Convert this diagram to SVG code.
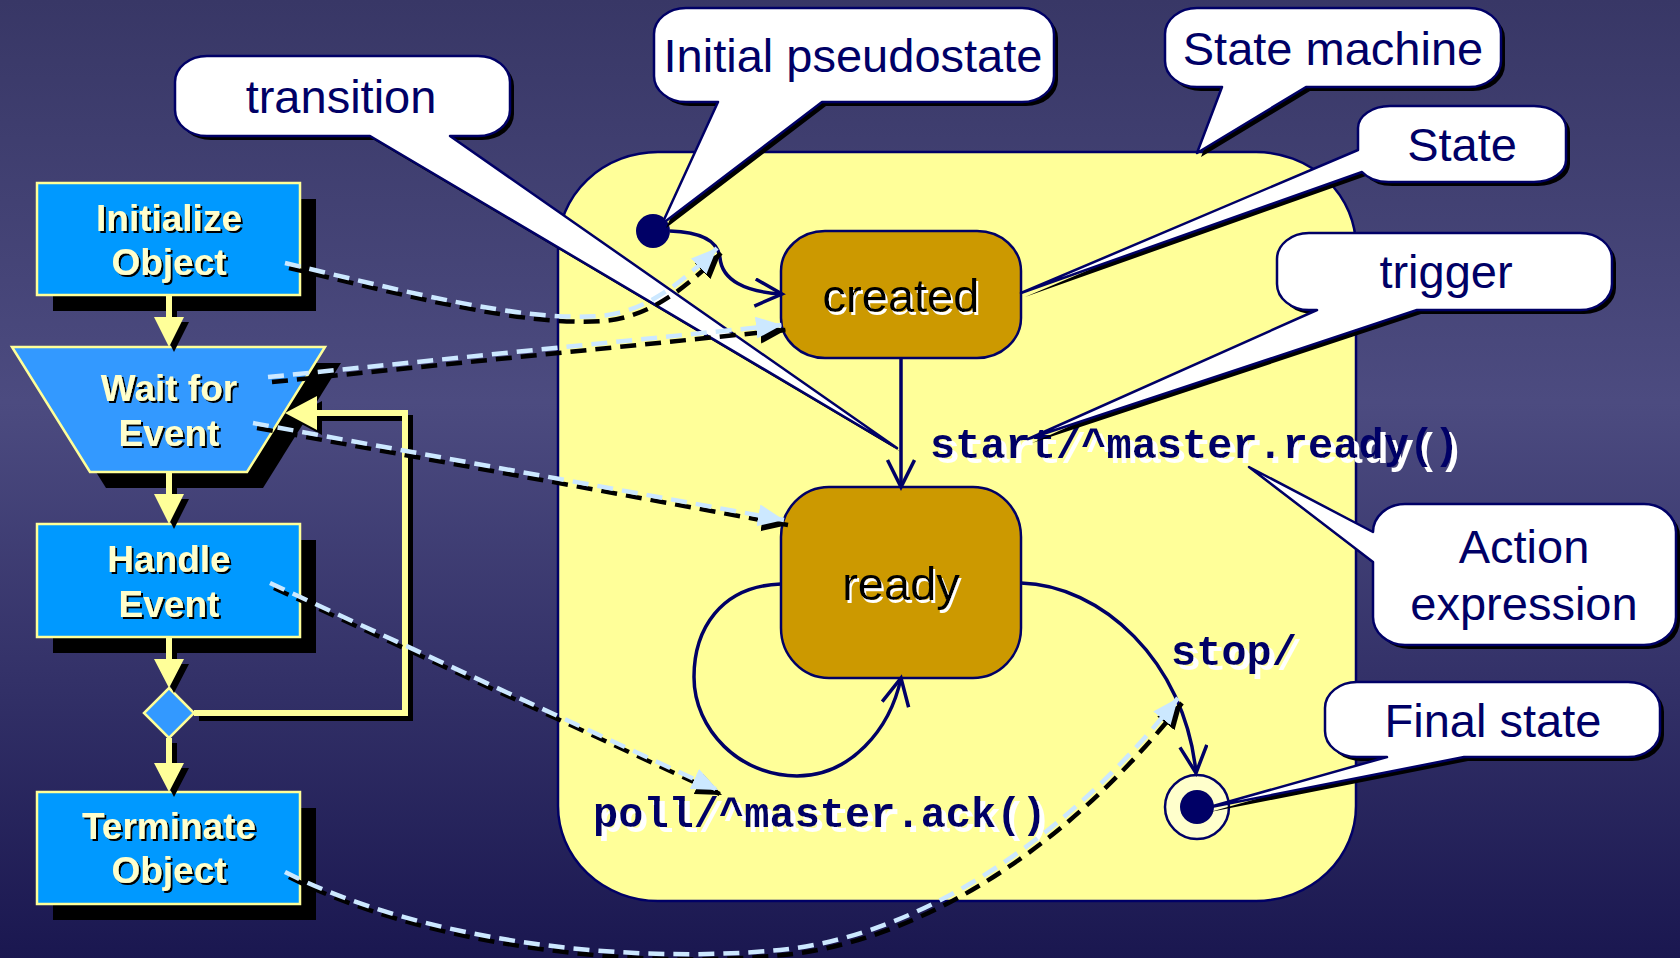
<svg xmlns="http://www.w3.org/2000/svg" width="1680" height="958" viewBox="0 0 1680 958">
<defs>
  <linearGradient id="bg" x1="0" y1="0" x2="0" y2="1">
    <stop offset="0" stop-color="#383766"/>
    <stop offset="0.42" stop-color="#4C4B80"/>
    <stop offset="1" stop-color="#1A1750"/>
  </linearGradient>
  <!-- offset text shadows -->
  <filter id="shadowDark" x="-10%" y="-30%" width="125%" height="160%">
    <feOffset in="SourceAlpha" dx="2" dy="2" result="off"/>
    <feFlood flood-color="#000"/>
    <feComposite in2="off" operator="in" result="shadow"/>
    <feMerge><feMergeNode in="shadow"/><feMergeNode in="SourceGraphic"/></feMerge>
  </filter>
  <filter id="shadowLight" x="-10%" y="-30%" width="125%" height="160%">
    <feOffset in="SourceAlpha" dx="2" dy="3" result="off"/>
    <feFlood flood-color="#fff"/>
    <feComposite in2="off" operator="in" result="shadow"/>
    <feMerge><feMergeNode in="shadow"/><feMergeNode in="SourceGraphic"/></feMerge>
  </filter>
  <filter id="shadowLabel" x="-5%" y="-30%" width="115%" height="170%">
    <feOffset in="SourceAlpha" dx="5" dy="5" result="off"/>
    <feFlood flood-color="#fff"/>
    <feComposite in2="off" operator="in" result="shadow"/>
    <feMerge><feMergeNode in="shadow"/><feMergeNode in="SourceGraphic"/></feMerge>
  </filter>
  <marker id="tipBlue" markerUnits="userSpaceOnUse" markerWidth="30" markerHeight="26" refX="26" refY="11" orient="auto">
    <path d="M0,0 L26,11 L0,22 Z" fill="#CCE8FF"/>
  </marker>
  <marker id="tipBlack" markerUnits="userSpaceOnUse" markerWidth="30" markerHeight="26" refX="26" refY="11" orient="auto">
    <path d="M0,0 L26,11 L0,22 Z" fill="#000"/>
  </marker>
  <marker id="openV" markerUnits="userSpaceOnUse" markerWidth="34" markerHeight="32" refX="30" refY="15" orient="auto">
    <path d="M3,1.5 L30,15 L3,28.5" fill="none" stroke="#000066" stroke-width="3.5"/>
  </marker>
  <style>
    .fc { fill:#0099FF; stroke:#FFFF99; stroke-width:2.5; }
    .fc2 { fill:#3399FF; stroke:#FFFF99; stroke-width:2.5; }
    .sh { fill:#000; }
    .fct { font-family:"Liberation Sans",Arial,sans-serif; font-weight:bold; font-size:37px; text-anchor:middle; fill:#FFFFCC; filter:url(#shadowDark); }
    .flow { fill:none; stroke:#FFFF99; stroke-width:6; }
    .flowsh { fill:none; stroke:#000; stroke-width:6; }
    .callout { fill:#fff; stroke:#000066; stroke-width:2.5; stroke-linejoin:round; }
    .ct { font-family:"Liberation Sans",Arial,sans-serif; font-size:47px; fill:#000066; text-anchor:middle; }
    .state { fill:#CC9900; stroke:#000066; stroke-width:2.5; }
    .st { font-family:"Liberation Sans",Arial,sans-serif; font-size:47px; text-anchor:middle; fill:#000; filter:url(#shadowLight); }
    .mono { font-family:"Liberation Mono","Courier New",monospace; font-weight:bold; font-size:42px; fill:#000066; filter:url(#shadowLabel); }
    .trans { fill:none; stroke:#000066; stroke-width:3.5; marker-end:url(#openV); }
    .dash { fill:none; stroke-width:4.5; stroke-dasharray:16 9; }
  </style>
</defs>

<!-- backdrop -->
<rect x="0" y="0" width="1680" height="958" fill="url(#bg)"/>

<!-- flowchart nodes -->
<g id="initialize">
  <rect class="sh" x="53" y="199" width="263" height="112"/>
  <rect class="fc" x="37" y="183" width="263" height="112"/>
  <text class="fct" x="169" y="231">Initialize</text>
  <text class="fct" x="169" y="275">Object</text>
</g>
<g id="wait-for-event">
  <polygon class="sh" points="28,363 341,363 263,488 106,488"/>
  <polygon class="fc2" points="12,347 325,347 247,472 90,472"/>
  <text class="fct" x="169" y="401">Wait for</text>
  <text class="fct" x="169" y="446">Event</text>
</g>
<g id="handle-event">
  <rect class="sh" x="53" y="540" width="263" height="113"/>
  <rect class="fc" x="37" y="524" width="263" height="113"/>
  <text class="fct" x="169" y="572">Handle</text>
  <text class="fct" x="169" y="617">Event</text>
</g>
<g id="decision">
  <polygon class="fc2" points="169,688 194,713 169,738 144,713"/>
</g>
<g id="terminate">
  <rect class="sh" x="53" y="808" width="263" height="112"/>
  <rect class="fc" x="37" y="792" width="263" height="112"/>
  <text class="fct" x="169" y="839">Terminate</text>
  <text class="fct" x="169" y="883">Object</text>
</g>

<!-- flowchart connectors -->
<g id="flow-connectors">
  <g transform="translate(5,5)">
    <path class="flowsh" d="M169,295 V320 M169,472 V497 M169,637 V662 M169,738 V765 M194,713 H405 V413 H315"/>
    <path class="sh" d="M154,317 L184,317 L169,347 Z M154,494 L184,494 L169,524 Z M154,659 L184,659 L169,688 Z M154,763 L184,763 L169,792 Z M317,396 L317,430 L285,413 Z"/>
  </g>
  <path class="flow" d="M169,295 V320 M169,472 V497 M169,637 V662 M169,738 V765 M194,713 H405 V413 H315"/>
  <path fill="#FFFF99" d="M154,317 L184,317 L169,347 Z M154,494 L184,494 L169,524 Z M154,659 L184,659 L169,688 Z M154,763 L184,763 L169,792 Z M317,396 L317,430 L285,413 Z"/>
</g>

<!-- state machine -->
<g id="state-machine">
  <rect x="558" y="152" width="798" height="749" rx="100" ry="95" fill="#FFFF99" stroke="#000066" stroke-width="2.5"/>
</g>
<g id="initial">
  <circle cx="653" cy="231" r="17" fill="#000066"/>
</g>
<g id="created">
  <rect class="state" x="781" y="231" width="240" height="127" rx="44" ry="40"/>
  <text class="st" x="901" y="312">created</text>
</g>
<g id="ready">
  <rect class="state" x="781" y="487" width="240" height="191" rx="48" ry="50"/>
  <text class="st" x="901" y="600">ready</text>
</g>
<g id="final">
  <circle cx="1197" cy="807" r="32" fill="#FFFFCC" stroke="#000066" stroke-width="2.5"/>
  <circle cx="1197" cy="807" r="17" fill="#000066"/>
</g>

<!-- state transitions -->
<g id="transitions">
  <path class="trans" d="M670,231 C700,232 718,240 720,258 C722,280 745,292 782,294"/>
  <path class="trans" d="M901,358 V487"/>
  <path class="trans" d="M781,584 C720,586 694,630 694,677 C694,730 740,776 797,776 C850,776 890,730 901,678"/>
  <path class="trans" d="M1021,583 C1100,585 1185,660 1196,773"/>
</g>

<!-- transition labels -->
<g id="labels">
  <text class="mono" x="930" y="458">start/^master.ready()</text>
  <text class="mono" x="1171" y="665">stop/</text>
  <text class="mono" x="593" y="827">poll/^master.ack()</text>
</g>

<!-- callouts -->
<g id="callout-transition">
  <path class="sh" transform="translate(4,4)" d="M207,56 H478 A32 26 0 0 1 510,82 V110 A32 26 0 0 1 478,136 H450 L897,448 L370,136 H207 A32 26 0 0 1 175,110 V82 A32 26 0 0 1 207,56 Z"/>
  <path class="callout" d="M207,56 H478 A32 26 0 0 1 510,82 V110 A32 26 0 0 1 478,136 H450 L897,448 L370,136 H207 A32 26 0 0 1 175,110 V82 A32 26 0 0 1 207,56 Z"/>
  <text class="ct" x="341" y="113">transition</text>
</g>
<g id="callout-initial">
  <path class="sh" transform="translate(4,4)" d="M686,8 H1022 A32 26 0 0 1 1054,34 V76 A32 26 0 0 1 1022,102 H822 L662,224 L718,102 H686 A32 26 0 0 1 654,76 V34 A32 26 0 0 1 686,8 Z"/>
  <path class="callout" d="M686,8 H1022 A32 26 0 0 1 1054,34 V76 A32 26 0 0 1 1022,102 H822 L662,224 L718,102 H686 A32 26 0 0 1 654,76 V34 A32 26 0 0 1 686,8 Z"/>
  <text class="ct" x="853" y="72">Initial pseudostate</text>
</g>
<g id="callout-machine">
  <path class="sh" transform="translate(4,4)" d="M1197,8 H1469 A32 26 0 0 1 1501,34 V61 A32 26 0 0 1 1469,87 H1306 L1197,153 L1222,87 H1197 A32 26 0 0 1 1165,61 V34 A32 26 0 0 1 1197,8 Z"/>
  <path class="callout" d="M1197,8 H1469 A32 26 0 0 1 1501,34 V61 A32 26 0 0 1 1469,87 H1306 L1197,153 L1222,87 H1197 A32 26 0 0 1 1165,61 V34 A32 26 0 0 1 1197,8 Z"/>
  <text class="ct" x="1333" y="65">State machine</text>
</g>
<g id="callout-state">
  <path class="sh" transform="translate(4,4)" d="M1390,106 H1534 A32 22 0 0 1 1566,128 V160 A32 22 0 0 1 1534,182 H1390 A32 22 0 0 1 1362,172 L1021,293 L1358,150 V128 A32 22 0 0 1 1390,106 Z"/>
  <path class="callout" d="M1390,106 H1534 A32 22 0 0 1 1566,128 V160 A32 22 0 0 1 1534,182 H1390 A32 22 0 0 1 1362,172 L1021,293 L1358,150 V128 A32 22 0 0 1 1390,106 Z"/>
  <text class="ct" x="1462" y="161">State</text>
</g>
<g id="callout-trigger">
  <path class="sh" transform="translate(4,4)" d="M1309,233 H1580 A32 26 0 0 1 1612,259 V284 A32 26 0 0 1 1580,310 H1417 L1028,439 L1317,310 H1309 A32 26 0 0 1 1277,284 V259 A32 26 0 0 1 1309,233 Z"/>
  <path class="callout" d="M1309,233 H1580 A32 26 0 0 1 1612,259 V284 A32 26 0 0 1 1580,310 H1417 L1028,439 L1317,310 H1309 A32 26 0 0 1 1277,284 V259 A32 26 0 0 1 1309,233 Z"/>
  <text class="ct" x="1446" y="288">trigger</text>
</g>
<g id="callout-action">
  <path class="sh" transform="translate(4,4)" d="M1405,504 H1644 A32 28 0 0 1 1676,532 V617 A32 28 0 0 1 1644,645 H1405 A32 28 0 0 1 1373,617 V562 L1249,467 L1373,532 A32 28 0 0 1 1405,504 Z"/>
  <path class="callout" d="M1405,504 H1644 A32 28 0 0 1 1676,532 V617 A32 28 0 0 1 1644,645 H1405 A32 28 0 0 1 1373,617 V562 L1249,467 L1373,532 A32 28 0 0 1 1405,504 Z"/>
  <text class="ct" x="1524" y="563">Action</text>
  <text class="ct" x="1524" y="620">expression</text>
</g>
<g id="callout-final">
  <path class="sh" transform="translate(4,4)" d="M1357,682 H1628 A32 26 0 0 1 1660,708 V731 A32 26 0 0 1 1628,757 H1464 L1206,808 L1387,757 H1357 A32 26 0 0 1 1325,731 V708 A32 26 0 0 1 1357,682 Z"/>
  <path class="callout" d="M1357,682 H1628 A32 26 0 0 1 1660,708 V731 A32 26 0 0 1 1628,757 H1464 L1206,808 L1387,757 H1357 A32 26 0 0 1 1325,731 V708 A32 26 0 0 1 1357,682 Z"/>
  <text class="ct" x="1493" y="737">Final state</text>
</g>

<!-- dashed mappings from flowchart steps to the state machine -->
<g id="mappings">
  <g transform="translate(4,5)" stroke="#000" style="marker-end:url(#tipBlack)">
    <path class="dash" d="M285,263 C400,290 520,322 600,316 C650,312 690,275 717,248"/>
    <path class="dash" d="M268,377 L782,325"/>
    <path class="dash" d="M253,423 L784,520"/>
    <path class="dash" d="M270,583 L718,790"/>
    <path class="dash" d="M285,872 C420,940 620,965 780,950 C900,938 1050,860 1178,698"/>
  </g>
  <g stroke="#CCE8FF" style="marker-end:url(#tipBlue)">
    <path class="dash" d="M285,263 C400,290 520,322 600,316 C650,312 690,275 717,248"/>
    <path class="dash" d="M268,377 L782,325"/>
    <path class="dash" d="M253,423 L784,520"/>
    <path class="dash" d="M270,583 L718,790"/>
    <path class="dash" d="M285,872 C420,940 620,965 780,950 C900,938 1050,860 1178,698"/>
  </g>
</g>
</svg>
